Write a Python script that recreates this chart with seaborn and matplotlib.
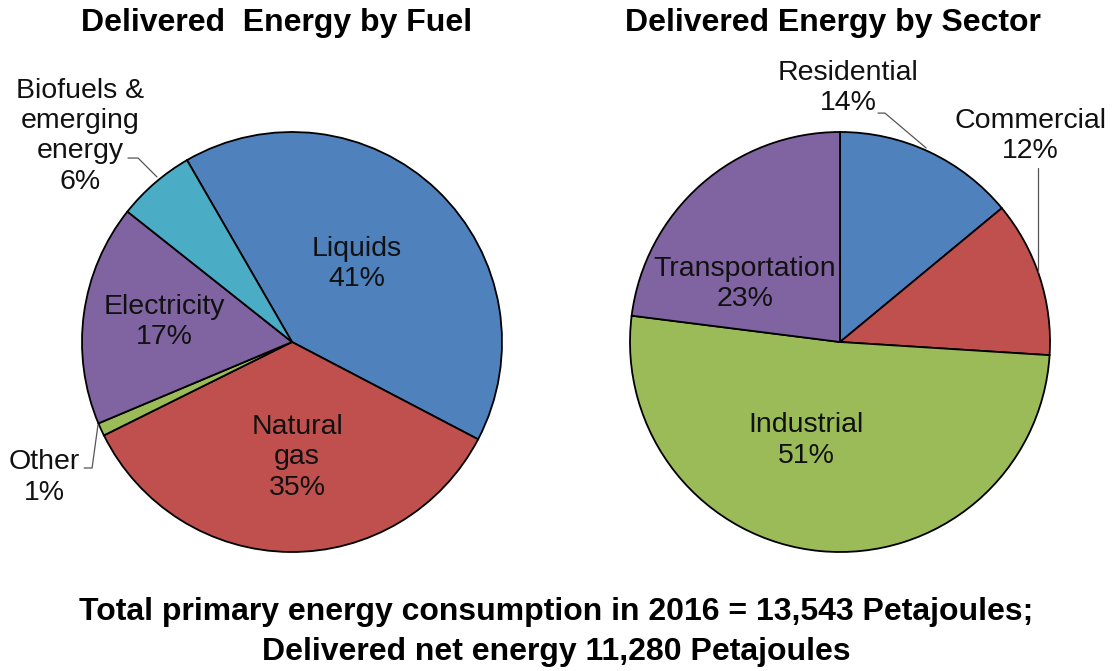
import matplotlib
matplotlib.use("Agg")
import matplotlib.pyplot as plt
import seaborn as sns

sns.set_theme(style="white")
plt.rcParams['font.family'] = ['Liberation Sans', 'DejaVu Sans']

# ── Data ──────────────────────────────────────────
fuel_labels = ['Liquids', 'Natural\ngas', 'Other', 'Electricity', 'Biofuels &\nemerging\nenergy']
fuel_values = [41, 35, 1, 17, 6]
fuel_colors = ['#4F81BD', '#C0504D', '#9BBB59', '#8064A2', '#4BACC6']

sector_labels = ['Residential', 'Commercial', 'Industrial', 'Transportation']
sector_values = [14, 12, 51, 23]
sector_colors = ['#4F81BD', '#C0504D', '#9BBB59', '#8064A2']

# label positions in pie units (radius = 1)
fuel_pos = [(0.31, 0.37), (0.024, -0.55), (-1.18, -0.645), (-0.61, 0.095), (-1.01, 0.98)]
sector_pos = [(0.038, 1.21), (0.905, 0.98), (-0.162, -0.47), (-0.452, 0.276)]

fuel_leaders = {2: [(-0.99, -0.60), (-0.952, -0.60), (-0.924, -0.395)],
                4: [(-0.781, 0.876), (-0.733, 0.876), (-0.643, 0.786)]}
sector_leaders = {0: [(0.181, 1.09), (0.214, 1.09), (0.41, 0.924)],
                  1: [(0.943, 0.83), (0.943, 0.335)]}

W, H = 1112, 671
fig = plt.figure(figsize=(W / 100, H / 100), dpi=100)

def draw_pie(cx, cy, values, labels, colors, start, pos, leaders, title, title_x):
    r = 210
    ax = fig.add_axes([(cx - r) / W, (H - cy - r) / H, 2 * r / W, 2 * r / H])
    ax.pie(values, colors=colors, startangle=start, counterclock=False,
           wedgeprops=dict(edgecolor='black', linewidth=1.3))
    ax.set_xlim(-1, 1)
    ax.set_ylim(-1, 1)
    ax.axis('off')
    for lab, v, (x, y) in zip(labels, values, pos):
        ax.text(x, y, f"{lab}\n{v}%", ha='center', va='center', fontsize=20.5,
                linespacing=1.22, color='#111111')
    for pts in leaders.values():
        xs, ys = zip(*pts)
        ax.plot(xs, ys, color='#555555', lw=0.9, clip_on=False)
    fig.text(title_x / W, 1 - 23 / H, title, ha='center', va='center',
             fontsize=23, fontweight='bold', color='black')

draw_pie(292, 342, fuel_values, fuel_labels, fuel_colors, 120, fuel_pos,
         fuel_leaders, 'Delivered  Energy by Fuel', 277)
draw_pie(840, 342, sector_values, sector_labels, sector_colors, 90, sector_pos,
         sector_leaders, 'Delivered Energy by Sector', 833)

fig.text(556 / W, 1 - 612 / H, 'Total primary energy consumption in 2016 = 13,543 Petajoules;',
         ha='center', va='center', fontsize=23, fontweight='bold', color='black')
fig.text(556 / W, 1 - 652 / H, 'Delivered net energy 11,280 Petajoules',
         ha='center', va='center', fontsize=23, fontweight='bold', color='black')

fig.savefig('out.png', dpi=100, facecolor='white')
